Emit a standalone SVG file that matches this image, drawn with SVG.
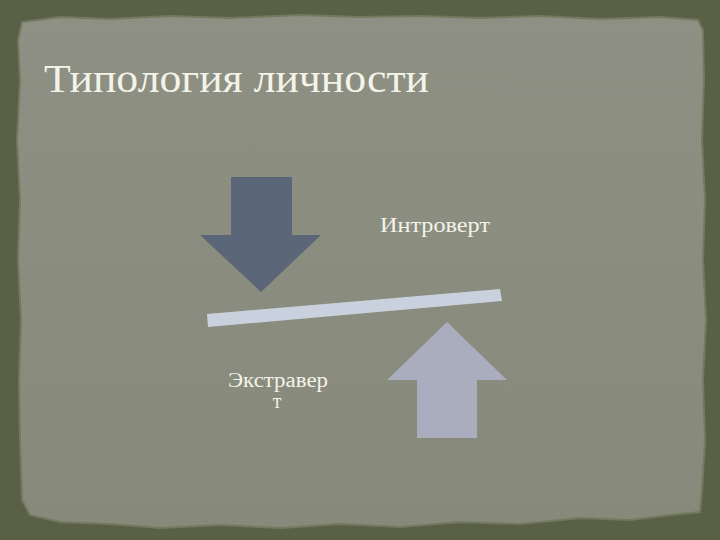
<svg xmlns="http://www.w3.org/2000/svg" width="720" height="540" viewBox="0 0 720 540">
  <defs>
    <style>
      .lbl { font-family: "Liberation Serif", "DejaVu Serif", serif; fill: #f4f3ea; }
    </style>
    <linearGradient id="paper" x1="0" y1="0" x2="0" y2="1">
      <stop offset="0" stop-color="#8d9082"/>
      <stop offset="1" stop-color="#878a7b"/>
    </linearGradient>
  </defs>
  <g id="background">
    <rect x="0" y="0" width="720" height="540" fill="#5a6046"/>
    <path d="M22,22 L60,17 L110,19 L170,16 L230,18 L300,15 L360,17 L420,16 L480,18 L540,16 L600,19 L660,17 L698,20 L703,30 L704,80 L702,140 L705,200 L703,260 L706,320 L703,380 L705,440 L702,490 L700,512 L670,515 L630,520 L580,518 L520,524 L460,522 L400,527 L340,524 L280,528 L220,525 L160,528 L110,524 L60,522 L30,515 L22,500 L20,440 L19,380 L21,320 L18,260 L20,200 L17,140 L20,80 L18,40 Z" fill="url(#paper)" stroke="#737a5f" stroke-width="2"/>
  </g>
  <g id="title">
    <text class="lbl" x="44" y="92" font-size="40" textLength="385" lengthAdjust="spacingAndGlyphs">Типология личности</text>
  </g>
  <g id="connectors">
    <polygon id="beam" points="207,314 500,289 502,301 208,327" fill="#c9d0de"/>
  </g>
  <g id="arrow-down">
    <polygon points="231,177 292,177 292,235 321,235 261,292 200,235 231,235" fill="#5b6678"/>
  </g>
  <g id="arrow-up">
    <polygon points="447,322 507,380 477,380 477,438 417,438 417,380 387,380" fill="#a9adbd"/>
  </g>
  <g id="label-introvert">
    <text class="lbl" x="380" y="232" font-size="20" textLength="110" lengthAdjust="spacingAndGlyphs">Интроверт</text>
  </g>
  <g id="label-extravert">
    <text class="lbl" x="228" y="387" font-size="20" textLength="100" lengthAdjust="spacingAndGlyphs">Экстравер</text>
    <text class="lbl" x="277" y="408" font-size="20" text-anchor="middle">т</text>
  </g>
</svg>
